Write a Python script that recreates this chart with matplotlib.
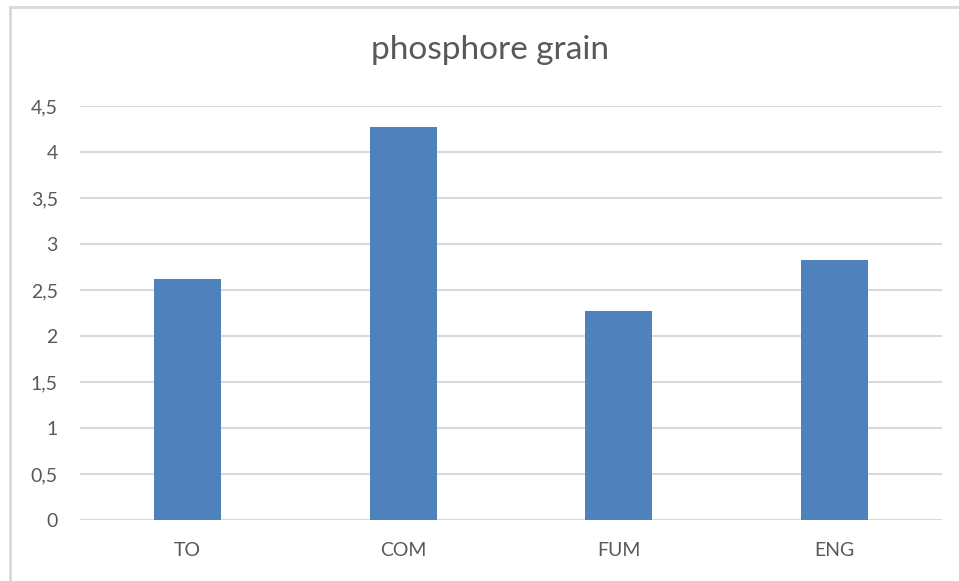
import matplotlib
matplotlib.use('Agg')
import matplotlib.pyplot as plt
from matplotlib.patches import Rectangle

categories = ['TO', 'COM', 'FUM', 'ENG']
values = [2.62, 4.27, 2.27, 2.83]
yticks = [0, 0.5, 1, 1.5, 2, 2.5, 3, 3.5, 4, 4.5]
ytick_labels = ['0', '0,5', '1', '1,5', '2', '2,5', '3', '3,5', '4', '4,5']

plt.rcParams['font.family'] = ['Lato', 'DejaVu Sans']
W, H = 959, 581
fig = plt.figure(figsize=(W / 100, H / 100), dpi=100)
ax = fig.add_axes([80 / W, (H - 520) / H, (942 - 80) / W, (520 - 106) / H])

x = range(len(categories))
ax.bar(x, values, width=0.31, color='#4f81bd', zorder=3)

ax.set_xlim(-0.5, len(categories) - 0.5)
ax.set_ylim(0, 4.5)
ax.set_yticks(yticks)
ax.set_yticklabels(ytick_labels)
ax.set_xticks(list(x))
ax.set_xticklabels(categories)
ax.tick_params(axis='both', length=0, labelsize=14, labelcolor='#595959')
ax.tick_params(axis='y', pad=16)
ax.tick_params(axis='x', pad=16)
ax.grid(axis='y', color='#d9d9d9', linewidth=1.5, zorder=0)
for s in ax.spines.values():
    s.set_visible(False)

fig.text(490 / W, 1 - 50 / H, 'phosphore grain', ha='center', va='center',
         fontsize=24, color='#595959')

# chart area border
fig.patches.append(Rectangle((10 / W, -0.1), 1.0, 1 - 7 / H + 0.1,
                             transform=fig.transFigure, fill=False,
                             edgecolor='#d9d9d9', linewidth=2))

fig.savefig('out.png', dpi=100)
